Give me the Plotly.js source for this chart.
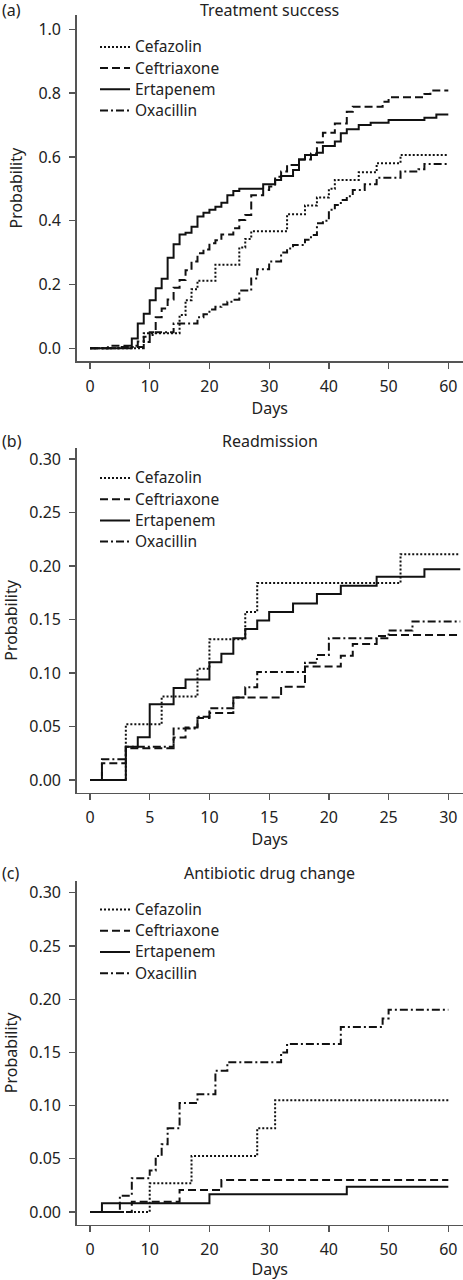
<!DOCTYPE html>
<html>
<head>
<meta charset="utf-8">
<script src="https://cdn.plot.ly/plotly-3.0.1.min.js"></script>
<style>html,body{margin:0;padding:0;background:#fff;}#chart{width:463px;height:1280px;}</style>
</head>
<body>
<div id="chart"></div>
<script>
// ---------- data ----------
var seriesNames = ["Cefazolin", "Ceftriaxone", "Ertapenem", "Oxacillin"];
var panelTitles = ["Treatment success", "Readmission", "Antibiotic drug change"];
var panelLabels = ["(a)", "(b)", "(c)"];

// (a) Treatment success
var a_cefazolin_days = [0, 9, 15, 16, 17, 18, 21, 25, 26, 27, 33, 36, 38, 40, 41, 45, 48, 52, 60];
var a_cefazolin_prob = [0, 0.047, 0.104, 0.151, 0.185, 0.212, 0.262, 0.316, 0.343, 0.367, 0.42, 0.448, 0.473, 0.50, 0.528, 0.552, 0.58, 0.606, 0.606];
var a_ceftriaxone_days = [0, 3, 8, 9, 10, 11, 12, 13, 14, 15, 16, 17, 18, 19, 20, 21, 22, 24, 25, 26, 27, 29, 30, 31, 32, 33, 35, 37, 38, 39, 41, 43, 44, 49, 50, 56, 57, 60];
var a_ceftriaxone_prob = [0, 0.008, 0.021, 0.036, 0.05, 0.097, 0.125, 0.153, 0.19, 0.214, 0.245, 0.272, 0.298, 0.31, 0.329, 0.339, 0.357, 0.376, 0.402, 0.418, 0.48, 0.496, 0.507, 0.538, 0.554, 0.575, 0.592, 0.611, 0.645, 0.676, 0.705, 0.742, 0.757, 0.773, 0.787, 0.797, 0.808, 0.808];
var a_ertapenem_days = [0, 7, 8, 9, 10, 11, 12, 13, 14, 15, 16, 17, 18, 19, 20, 21, 22, 23, 24, 25, 29, 31, 32, 34, 35, 36, 38, 39, 41, 42, 43, 45, 47, 50, 56, 58, 60];
var a_ertapenem_prob = [0, 0.031, 0.078, 0.108, 0.151, 0.188, 0.218, 0.284, 0.326, 0.357, 0.362, 0.381, 0.413, 0.425, 0.434, 0.444, 0.456, 0.48, 0.493, 0.50, 0.514, 0.528, 0.540, 0.559, 0.592, 0.606, 0.613, 0.634, 0.648, 0.674, 0.687, 0.70, 0.707, 0.716, 0.723, 0.733, 0.733];
var a_oxacillin_days = [0, 5, 9, 10, 11, 14, 18, 19, 20, 21, 22, 23, 24, 25, 27, 28, 30, 32, 33, 34, 36, 37, 38, 39, 40, 41, 42, 43, 44, 46, 48, 52, 55, 56, 60];
var a_oxacillin_prob = [0, 0.004, 0.02, 0.042, 0.05, 0.078, 0.097, 0.107, 0.122, 0.13, 0.137, 0.146, 0.152, 0.181, 0.219, 0.248, 0.272, 0.30, 0.313, 0.324, 0.34, 0.355, 0.392, 0.40, 0.434, 0.449, 0.465, 0.477, 0.496, 0.514, 0.535, 0.554, 0.561, 0.578, 0.578];

// (b) Readmission
var b_cefazolin_days = [0, 3, 6, 9, 10, 13, 14, 26, 31];
var b_cefazolin_prob = [0, 0.052, 0.078, 0.104, 0.1315, 0.157, 0.184, 0.211, 0.211];
var b_ceftriaxone_days = [0, 1, 3, 7, 8, 9, 10, 12, 16, 18, 21, 22, 24, 25, 31];
var b_ceftriaxone_prob = [0, 0.0156, 0.0296, 0.0396, 0.049, 0.058, 0.0625, 0.077, 0.0872, 0.106, 0.116, 0.127, 0.1324, 0.1355, 0.1355];
var b_ertapenem_days = [0, 3, 4, 5, 7, 8, 10, 11, 12, 13, 14, 15, 17, 19, 21, 24, 28, 31];
var b_ertapenem_prob = [0, 0.031, 0.040, 0.0707, 0.086, 0.094, 0.110, 0.118, 0.1325, 0.141, 0.149, 0.157, 0.165, 0.1738, 0.1816, 0.19, 0.197, 0.197];
var b_oxacillin_days = [0, 1, 3, 7, 9, 10, 12, 13, 14, 18, 19, 20, 24, 25, 27, 31];
var b_oxacillin_prob = [0, 0.0193, 0.031, 0.048, 0.0592, 0.067, 0.077, 0.0866, 0.101, 0.1096, 0.1168, 0.1324, 0.1346, 0.1396, 0.148, 0.148];

// (c) Antibiotic drug change
var c_cefazolin_days = [0, 10, 17, 28, 31, 60];
var c_cefazolin_prob = [0, 0.027, 0.0526, 0.0787, 0.105, 0.105];
var c_ceftriaxone_days = [0, 7, 15, 22, 60];
var c_ceftriaxone_prob = [0, 0.0097, 0.0207, 0.030, 0.030];
var c_ertapenem_days = [0, 2, 20, 43, 60];
var c_ertapenem_prob = [0, 0.0082, 0.0166, 0.0238, 0.0238];
var c_oxacillin_days = [0, 5, 7, 10, 11, 12, 13, 15, 18, 21, 23, 32, 33, 42, 49, 50, 60];
var c_oxacillin_prob = [0, 0.0153, 0.0317, 0.039, 0.0526, 0.0636, 0.0787, 0.1025, 0.1106, 0.1328, 0.1407, 0.150, 0.158, 0.174, 0.182, 0.190, 0.190];

var xTicksA = [0, 10, 20, 30, 40, 50, 60];
var yTicksA = [0, 0.2, 0.4, 0.6, 0.8, 1.0];
var xTicksB = [0, 5, 10, 15, 20, 25, 30];
var yTicksB = [0, 0.05, 0.10, 0.15, 0.20, 0.25, 0.30];
var xTicksC = [0, 10, 20, 30, 40, 50, 60];
var yTicksC = [0, 0.05, 0.10, 0.15, 0.20, 0.25, 0.30];

// ---------- styling ----------
var FONT = "Noto Sans, Open Sans, DejaVu Sans, sans-serif";
var TXT = "#222";
var AX = "#555";
var dashes = ["2px,2px", "8px,4px", "solid", "8px,3px,2px,3px"];

var panels = [
  {series: [[a_cefazolin_days, a_cefazolin_prob], [a_ceftriaxone_days, a_ceftriaxone_prob], [a_ertapenem_days, a_ertapenem_prob], [a_oxacillin_days, a_oxacillin_prob]]},
  {series: [[b_cefazolin_days, b_cefazolin_prob], [b_ceftriaxone_days, b_ceftriaxone_prob], [b_ertapenem_days, b_ertapenem_prob], [b_oxacillin_days, b_oxacillin_prob]]},
  {series: [[c_cefazolin_days, c_cefazolin_prob], [c_ceftriaxone_days, c_ceftriaxone_prob], [c_ertapenem_days, c_ertapenem_prob], [c_oxacillin_days, c_oxacillin_prob]]}
];

var traces = [];
panels.forEach(function(p, pi) {
  var sfx = pi === 0 ? "" : String(pi + 1);
  p.series.forEach(function(s, si) {
    traces.push({
      type: "scatter", mode: "lines",
      x: s[0], y: s[1],
      xaxis: "x" + sfx, yaxis: "y" + sfx,
      legend: "legend" + sfx,
      name: '<span style="font-size:15.5px">' + seriesNames[si] + '</span>',
      line: {shape: "hv", color: "#111", width: 2, dash: dashes[si]},
      hoverinfo: "skip"
    });
  });
});

function xa(range, ticks, anchor) {
  return {
    domain: [0.16523, 1], range: range, anchor: anchor,
    tickmode: "array", tickvals: ticks, ticktext: ticks.map(String),
    showgrid: false, zeroline: false, showline: true, linecolor: AX, linewidth: 1.3,
    ticks: "outside", ticklen: 6, tickwidth: 1.3, tickcolor: AX, ticklabelstandoff: 4,
    tickfont: {family: FONT, size: 16, color: TXT},
    title: {text: "Days", font: {family: FONT, size: 16, color: TXT}, standoff: 2}
  };
}
function ya(domain, range, ticks, fmt, anchor) {
  return {
    domain: domain, range: range, anchor: anchor,
    tickmode: "array", tickvals: ticks, ticktext: ticks.map(function(v){return v.toFixed(fmt);}),
    showgrid: false, zeroline: false, showline: true, linecolor: AX, linewidth: 1.3,
    ticks: "outside", ticklen: 6, tickwidth: 1.3, tickcolor: AX, ticklabelstandoff: 5,
    tickfont: {family: FONT, size: 16, color: TXT},
    title: {text: "Probability", font: {family: FONT, size: 16, color: TXT}, standoff: 11}
  };
}
function lg(ytop) {
  return {x: 95 / 463, xanchor: "left", y: ytop, yanchor: "top", bgcolor: "rgba(0,0,0,0)",
          borderwidth: 0, font: {family: FONT, size: 14, color: TXT}, tracegroupgap: 0};
}

var layout = {
  width: 463, height: 1280,
  margin: {l: 0, r: 0, t: 0, b: 0},
  paper_bgcolor: "#fff", plot_bgcolor: "#fff",
  font: {family: FONT, size: 16, color: TXT},
  showlegend: true,
  xaxis: xa([-2.26, 62.46], xTicksA, "y"),
  yaxis: ya([0.71758, 0.98828], [-0.0414, 1.045], yTicksA, 1, "x"),
  xaxis2: xa([-1.13, 31.23], xTicksB, "y2"),
  yaxis2: ya([0.38070, 0.64977], [-0.0119, 0.310], yTicksB, 2, "x2"),
  xaxis3: xa([-2.26, 62.46], xTicksC, "y3"),
  yaxis3: ya([0.04297, 0.31195], [-0.0122, 0.3114], yTicksC, 2, "x3"),
  legend: lg(0.97555),
  legend2: lg(0.63875),
  legend3: lg(0.30156),
  annotations: []
};

var titleY = [0.99203, 0.65563, 0.31797];
panelTitles.forEach(function(t, i) {
  layout.annotations.push({text: t, xref: "paper", yref: "paper", x: 0.5829, y: titleY[i],
    xanchor: "center", yanchor: "middle", showarrow: false, font: {family: FONT, size: 16, color: TXT}});
  layout.annotations.push({text: panelLabels[i], xref: "paper", yref: "paper", x: 0, y: titleY[i],
    xanchor: "left", yanchor: "middle", showarrow: false, font: {family: FONT, size: 16, color: TXT}});
});

Plotly.newPlot("chart", traces, layout, {staticPlot: true, displayModeBar: false});
</script>
</body>
</html>
